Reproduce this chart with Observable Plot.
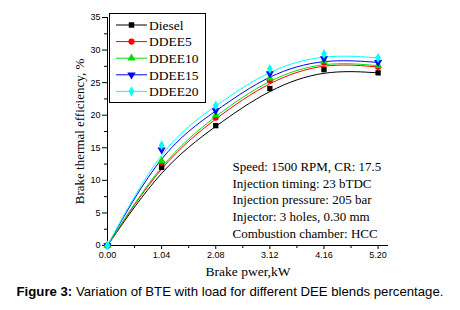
<!DOCTYPE html>
<html>
<head>
<meta charset="utf-8">
<script src="https://cdn.jsdelivr.net/npm/d3@7"></script>
<script src="https://cdn.jsdelivr.net/npm/@observablehq/plot@0.6"></script>
<style>
  body { margin: 0; background: #fff; }
  #wrap { position: relative; width: 460px; height: 310px; background: #fff; }
  #caption { position: absolute; left: 0; top: 283px; width: 460px; height: 18px; line-height: 18px; text-align: center; font-family: "Liberation Sans", Arial, sans-serif; font-size: 13.2px; color: #000; white-space: nowrap; }
  #legend { position: absolute; left: 109px; top: 13px; }
  #legend text { font-family: "Liberation Serif", "Times New Roman", serif; font-size: 13.5px; }
</style>
</head>
<body>
<div id="wrap">
  <div id="chart"></div>
  <div id="legend"></div>
  <div id="caption"><b>Figure 3:</b> Variation of BTE with load for different DEE blends percentage.</div>
</div>
<script>
// ---- data ----
const loads = [0, 1.04, 2.08, 3.12, 4.16, 5.20];
const seriesNames = ["Diesel", "DDEE5", "DDEE10", "DDEE15", "DDEE20"];
const diesel = [0, 12.0, 18.4, 24.1, 27.0, 26.5];
const ddee5  = [0, 12.7, 19.6, 25.3, 28.1, 27.4];
const ddee10 = [0, 13.0, 20.0, 25.7, 28.3, 27.6];
const ddee15 = [0, 14.7, 20.7, 26.4, 28.7, 28.1];
const ddee20 = [0, 15.4, 21.5, 27.1, 29.4, 28.8];
const yTicks = [0, 5, 10, 15, 20, 25, 30, 35];
const yMinor = [2.5, 7.5, 12.5, 17.5, 22.5, 27.5, 32.5];
const xMinor = [0.52, 1.56, 2.60, 3.64, 4.68];
const xTitle = "Brake pwer,kW";
const yTitle = "Brake thermal efficiency, %";
const notes = [
  "Speed: 1500 RPM, CR: 17.5",
  "Injection timing: 23 bTDC",
  "Injection pressure: 205 bar",
  "Injector: 3 holes, 0.30 mm",
  "Combustion chamber: HCC"
];

const values = [diesel, ddee5, ddee10, ddee15, ddee20];
const colors = ["#000000", "#ff0000", "#00e000", "#0000ff", "#00ffff"];
const triDown = {
  draw(ctx, size) {
    const y = -Math.sqrt(size / (Math.sqrt(3) * 3));
    ctx.moveTo(0, -y * 2);
    ctx.lineTo(-Math.sqrt(3) * y, y);
    ctx.lineTo(Math.sqrt(3) * y, y);
    ctx.closePath();
  }
};
const symbols = ["square", "circle", "triangle", triDown, "diamond"];

const rows = [];
seriesNames.forEach((s, i) => loads.forEach((x, j) => rows.push({series: s, x, y: values[i][j]})));

const serif = "'Liberation Serif', 'Times New Roman', serif";

const marks = [
  Plot.ruleX([0], {stroke: "#000"}),
  Plot.ruleY([0], {stroke: "#000"}),
  Plot.axisY({ticks: yTicks, tickSize: 5, tickPadding: 2, label: null, fontSize: 9}),
  Plot.axisY({ticks: yMinor, tickSize: 3, text: null, label: null}),
  Plot.axisX({ticks: loads, tickSize: 4, tickPadding: 2, tickFormat: d3.format(".2f"), label: null, fontSize: 9}),
  Plot.axisX({ticks: xMinor, tickSize: 3, text: null, label: null}),
];
seriesNames.forEach((s, i) => {
  const d = rows.filter(r => r.series === s);
  marks.push(Plot.line(d, {x: "x", y: "y", curve: "basis", stroke: colors[i], strokeWidth: 1}));
});
seriesNames.forEach((s, i) => {
  const d = rows.filter(r => r.series === s);
  marks.push(Plot.dot(d, {x: "x", y: "y", symbol: symbols[i], fill: colors[i], stroke: "none", r: 3}));
});
marks.push(
  Plot.text([notes.join("\n")], {frameAnchor: "bottom-left", dx: 125, dy: -8, textAnchor: "start", lineAnchor: "bottom", lineHeight: 1.28, fontSize: 13, fontFamily: serif, fill: "#000"}),
  Plot.text([xTitle], {frameAnchor: "bottom", dy: 30, textAnchor: "middle", fontSize: 13.5, fontFamily: serif, fill: "#000"}),
  Plot.text([yTitle], {frameAnchor: "left", dx: -28, rotate: -90, textAnchor: "middle", fontSize: 13, fontFamily: serif, fill: "#000"})
);

const chart = Plot.plot({
  width: 460,
  height: 283,
  marginLeft: 107,
  marginRight: 72,
  marginTop: 17,
  marginBottom: 38,
  x: {domain: [0, 5.4]},
  y: {domain: [0, 35]},
  style: {fontFamily: "'Liberation Sans', Arial, sans-serif", fontSize: "9px", background: "#fff", color: "#000", overflow: "visible"},
  marks
});
document.getElementById("chart").appendChild(chart);

// ---- legend ----
const lg = d3.select("#legend").append("svg").attr("width", 98).attr("height", 91);
lg.append("rect").attr("x", 0.5).attr("y", 0.5).attr("width", 96).attr("height", 89).attr("fill", "#fff").attr("stroke", "#000");
seriesNames.forEach((s, i) => {
  const cy = 12 + i * 16.6;
  lg.append("line").attr("x1", 7).attr("x2", 38).attr("y1", cy).attr("y2", cy).attr("stroke", colors[i]);
  const sym = typeof symbols[i] === "string"
    ? {square: d3.symbolSquare, circle: d3.symbolCircle, triangle: d3.symbolTriangle, diamond: d3.symbolDiamond}[symbols[i]]
    : symbols[i];
  lg.append("path").attr("d", d3.symbol(sym, 30)()).attr("transform", `translate(22.5,${cy})`).attr("fill", colors[i]);
  lg.append("text").attr("x", 40).attr("y", cy).attr("dy", "0.35em").text(s);
});
</script>
</body>
</html>
